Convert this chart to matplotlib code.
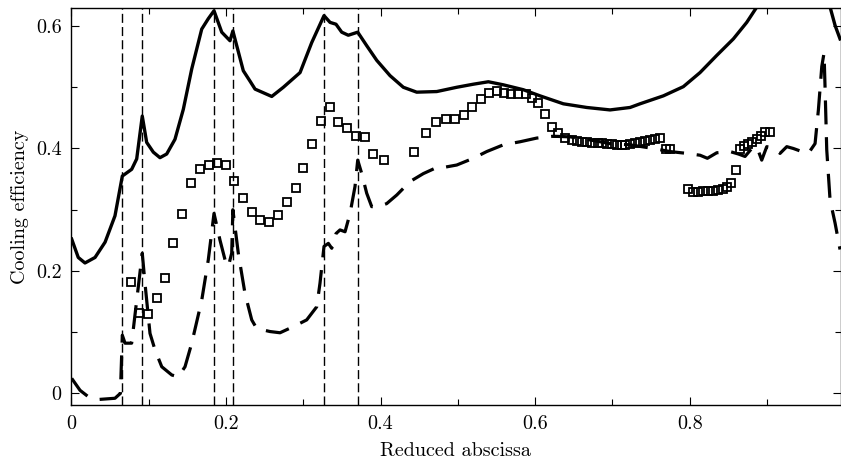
import matplotlib
matplotlib.use("Agg")
import matplotlib.pyplot as plt
from matplotlib.ticker import MultipleLocator, FuncFormatter

# ---- data ----
solid_x = [0.0005, 0.009, 0.0177, 0.0307, 0.0437, 0.0565, 0.066, 0.0781, 0.0846, 0.0918,
           0.0975, 0.1061, 0.1147, 0.1234, 0.1341, 0.1449, 0.1558, 0.1687, 0.1772, 0.1846,
           0.1946, 0.2053, 0.209, 0.2225, 0.2312, 0.2377, 0.2593, 0.2743, 0.2959, 0.311,
           0.3269, 0.3347, 0.3424, 0.3498, 0.3583, 0.3705, 0.3821, 0.3951, 0.4123, 0.4295,
           0.4468, 0.4727, 0.4986, 0.520, 0.5395, 0.5589, 0.5847, 0.6063, 0.6365, 0.6667,
           0.6969, 0.7228, 0.7357, 0.7659, 0.7917, 0.8133, 0.8349, 0.8564, 0.8737, 0.8867,
           0.90, 0.975, 0.9815, 0.988, 0.9944]
solid_y = [0.252, 0.222, 0.213, 0.222, 0.247, 0.290, 0.355, 0.366, 0.383, 0.453,
           0.410, 0.394, 0.385, 0.391, 0.415, 0.464, 0.530, 0.595, 0.612, 0.625,
           0.590, 0.576, 0.592, 0.527, 0.510, 0.497, 0.485, 0.500, 0.524, 0.573,
           0.617, 0.606, 0.603, 0.590, 0.585, 0.590, 0.568, 0.544, 0.519, 0.500,
           0.492, 0.493, 0.500, 0.505, 0.509, 0.504, 0.496, 0.486, 0.473, 0.467,
           0.463, 0.467, 0.473, 0.486, 0.501, 0.524, 0.552, 0.579, 0.606, 0.631,
           0.66, 0.66, 0.631, 0.601, 0.579]

dash_x = [0.0005, 0.0113, 0.022, 0.035, 0.0565, 0.0635, 0.066, 0.0695, 0.0781, 0.0846,
          0.0918, 0.0953, 0.1018, 0.1083, 0.117, 0.130, 0.1384, 0.1471, 0.1558, 0.1687,
          0.1772, 0.1846, 0.1924, 0.1989, 0.2031, 0.2075, 0.209, 0.216, 0.2247, 0.2334,
          0.2398, 0.257, 0.270, 0.2872, 0.3045, 0.3175, 0.3217, 0.3269, 0.3325, 0.3369,
          0.3424, 0.3476, 0.3541, 0.3606, 0.367, 0.3705, 0.3757, 0.3821, 0.3886, 0.3972,
          0.408, 0.421, 0.4382, 0.4554, 0.4727, 0.4812, 0.4986, 0.520, 0.5374, 0.5589,
          0.5805, 0.602, 0.6235, 0.6452, 0.671, 0.6969, 0.7228, 0.7529, 0.7745, 0.7961,
          0.8133, 0.8228, 0.8349, 0.8521, 0.8629, 0.8715, 0.8802, 0.8867, 0.8931, 0.8996,
          0.9103, 0.9168, 0.9255, 0.934, 0.9449, 0.9534, 0.9621, 0.9664, 0.9708, 0.9737,
          0.975, 0.9772, 0.9815, 0.988, 0.9944]
dash_y = [0.0245, 0.005, -0.0055, -0.010, -0.008, 0.000, 0.095, 0.082, 0.082, 0.152,
          0.229, 0.180, 0.098, 0.071, 0.0435, 0.030, 0.027, 0.0435, 0.082, 0.152,
          0.218, 0.294, 0.250, 0.218, 0.207, 0.229, 0.300, 0.229, 0.163, 0.120,
          0.106, 0.101, 0.099, 0.109, 0.120, 0.1415, 0.180, 0.240, 0.245, 0.237,
          0.261, 0.267, 0.264, 0.294, 0.338, 0.381, 0.359, 0.327, 0.305, 0.305,
          0.310, 0.324, 0.346, 0.359, 0.369, 0.369, 0.373, 0.384, 0.395, 0.406,
          0.411, 0.417, 0.420, 0.419, 0.414, 0.408, 0.406, 0.400, 0.395, 0.392,
          0.389, 0.384, 0.393, 0.395, 0.391, 0.387, 0.400, 0.403, 0.381, 0.403,
          0.400, 0.392, 0.403, 0.400, 0.395, 0.392, 0.408, 0.463, 0.534, 0.556,
          0.501, 0.398, 0.316, 0.278, 0.235]

sq_x = [0.0768, 0.0876, 0.0996, 0.1105, 0.1212, 0.1320, 0.1428, 0.1549, 0.1665, 0.1781,
        0.1889, 0.2001, 0.2109, 0.2225, 0.2338, 0.2445, 0.2560, 0.2670, 0.2787, 0.2903,
        0.3001, 0.3114, 0.3230, 0.3347, 0.3454, 0.3571, 0.3683, 0.3799, 0.3907, 0.4049,
        0.4433, 0.4589, 0.4715, 0.4847, 0.4964, 0.5080, 0.5188, 0.5296, 0.5404, 0.5503,
        0.5598, 0.5688, 0.5783, 0.5878, 0.5956, 0.6041, 0.6128, 0.6219, 0.6300, 0.6387,
        0.6474, 0.6538, 0.6603, 0.6668, 0.6732, 0.6810, 0.6862, 0.6926, 0.6991, 0.7056,
        0.7120, 0.7163, 0.7228, 0.7292, 0.7357, 0.7422, 0.7487, 0.7551, 0.7616, 0.7690,
        0.7745, 0.7982, 0.8047, 0.8111, 0.8176, 0.8241, 0.8305, 0.8370, 0.8435, 0.8479,
        0.8530, 0.8595, 0.8651, 0.8703, 0.8758, 0.8810, 0.8867, 0.8919, 0.8974, 0.9039]
sq_y = [0.1824, 0.1307, 0.1291, 0.1552, 0.1879, 0.2461, 0.2930, 0.3441, 0.3662, 0.3735,
        0.3766, 0.3730, 0.3477, 0.3186, 0.2958, 0.2832, 0.2796, 0.2913, 0.3121, 0.3359,
        0.3686, 0.4069, 0.4454, 0.4673, 0.4428, 0.4330, 0.4204, 0.4183, 0.3910, 0.3812,
        0.3938, 0.4258, 0.4428, 0.4477, 0.4477, 0.4547, 0.4683, 0.4809, 0.4902, 0.4944,
        0.4912, 0.4886, 0.4886, 0.4891, 0.4820, 0.4739, 0.4559, 0.4348, 0.4248, 0.4167,
        0.4139, 0.4127, 0.4111, 0.4106, 0.4095, 0.4085, 0.4085, 0.4074, 0.4069, 0.4062,
        0.4057, 0.4057, 0.4074, 0.4095, 0.4106, 0.4122, 0.4139, 0.4150, 0.4167, 0.3987,
        0.3987, 0.3333, 0.3294, 0.3294, 0.3306, 0.3306, 0.3310, 0.3322, 0.3338, 0.3376,
        0.3441, 0.3649, 0.3987, 0.4041, 0.4074, 0.4111, 0.4155, 0.4209, 0.4265, 0.4275]

vlines_x = [0.066, 0.0918, 0.1846, 0.209, 0.3269, 0.3705]

xticks = [0, 0.2, 0.4, 0.6, 0.8]
yticks = [0, 0.2, 0.4, 0.6]

# ---- plot ----
plt.rcParams['font.family'] = ['cmr10', 'DejaVu Serif']
plt.rcParams['mathtext.fontset'] = 'cm'
plt.rcParams['axes.formatter.use_mathtext'] = True

fig = plt.figure(figsize=(8.41, 4.65), dpi=100)
ax = fig.add_axes([71.3 / 841, 1 - 405 / 465, (840.5 - 71.3) / 841, (405 - 8.3) / 465])

for xv in vlines_x:
    ax.axvline(xv, color='black', lw=1.0, dashes=(6.5, 3.0), zorder=1)

ax.plot(solid_x, solid_y, color='black', lw=2.4, solid_joinstyle='round', zorder=3)
ax.plot(dash_x, dash_y, color='black', lw=2.3, dashes=(7.5, 4.0), zorder=3)
ax.plot(sq_x, sq_y, ls='none', marker='s', ms=6.2, mfc='none', mec='black', mew=1.3, zorder=4)

ax.set_xlim(0, 0.995)
ax.set_ylim(-0.019, 0.629)

fmt = FuncFormatter(lambda v, p: '0' if abs(v) < 1e-9 else f'{v:.1f}')
ax.set_xticks(xticks)
ax.set_yticks(yticks)
ax.xaxis.set_major_formatter(fmt)
ax.yaxis.set_major_formatter(fmt)
ax.xaxis.set_minor_locator(MultipleLocator(0.1))
ax.yaxis.set_minor_locator(MultipleLocator(0.1))
ax.tick_params(which='both', direction='in', top=True, right=True, labelsize=14.5, width=0.8)
ax.tick_params(which='major', length=6, pad=7)
ax.tick_params(which='minor', length=4)
for s in ax.spines.values():
    s.set_linewidth(1.0)

ax.set_xlabel('Reduced abscissa', fontsize=14.5, labelpad=7)
ax.set_ylabel('Cooling efficiency', fontsize=14.5, labelpad=5)

fig.savefig('out.png', dpi=100)
